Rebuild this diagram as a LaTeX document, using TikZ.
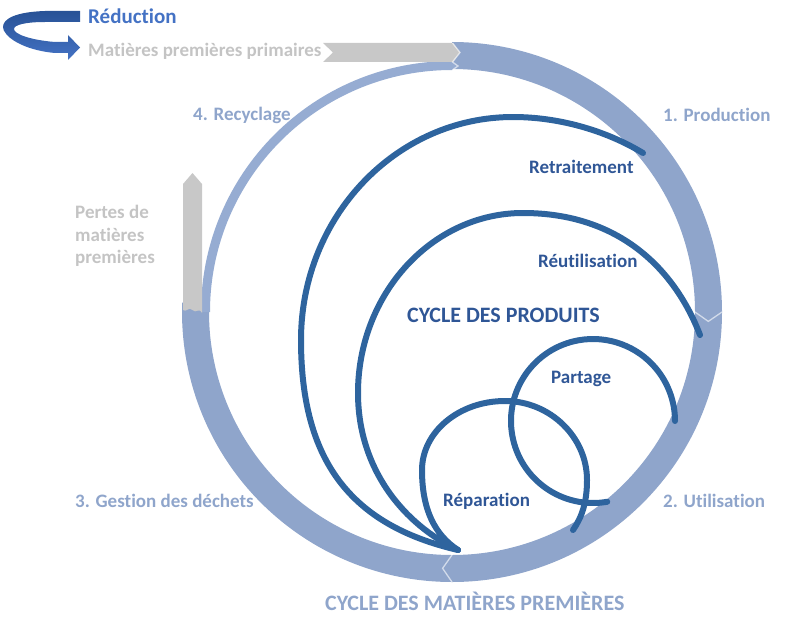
\documentclass[tikz,border=0pt]{standalone}
\usepackage{fontspec}
\setmainfont{Carlito}[Ligatures=TeX, RawFeature={-liga;-clig;-dlig;-calt}]
\usetikzlibrary{calc}
\definecolor{ringc}{RGB}{143,165,203}
\definecolor{thinc}{RGB}{150,172,210}
\definecolor{grayc}{RGB}{200,200,200}
\definecolor{graytxt}{RGB}{196,196,196}
\definecolor{lineblue}{RGB}{46,100,158}
\definecolor{lblblue}{RGB}{47,86,150}
\definecolor{reducblue}{RGB}{68,114,196}
\definecolor{reducdark}{RGB}{40,82,150}
\begin{document}
\begin{tikzpicture}[x=1pt,y=-1pt,
  lbl/.style={font=\bfseries\fontsize{19}{22.5}\selectfont, inner sep=0pt, anchor=west},
  head/.style={font=\bfseries\fontsize{22}{24}\selectfont, inner sep=0pt, anchor=west},
  loop/.style={draw=lineblue, line width=6pt, line cap=round},
  sep/.style={draw=white, draw opacity=0.6, line width=1.3pt, line join=miter}]
\useasboundingbox (0,0) rectangle (800,626);
\coordinate (C) at (452,312);
% main ring (production, utilisation, gestion)
\draw[ringc, line width=27pt] (C) ++(-90:256.5) arc[start angle=-90, end angle=182, radius=256.5];
% thin recycling arc
\draw[thinc, line width=9pt] (C) ++(180:246.5) arc[start angle=180, end angle=270, radius=246.5];
\fill[thinc] (452,62) -- (458,66) -- (452,70) -- cycle;
% gray arrows
\fill[grayc] (323,43) -- (453,43) -- (460,52.5) -- (453,62) -- (323,62) -- (333,52.5) -- cycle;
\fill[grayc] (202,313) .. controls (199,307) and (196,314) .. (192.5,310)
   .. controls (189,306) and (186,313) .. (183,310) -- (183,184) -- (192.5,173) -- (202,184) -- cycle;
% separators (chevrons)
\draw[sep] ($(C)+(0:243)$) -- ($(C)+(2.1:256.5)$) -- ($(C)+(0:270)$);
\draw[sep] ($(C)+(90:243)$) -- ($(C)+(92.1:256.5)$) -- ($(C)+(90:270)$);
\draw[sep] (452.5,43) -- (460,52.5) -- (452.5,62) -- (458,66) -- (452.5,70);
% product loops
\coordinate (conv) at (458,550);
% Retraitement
\draw[loop] (643,153) .. controls (605,130) and (558,117) .. (513,117)
  .. controls (396,117) and (301,217) .. (301,340)
  .. controls (301,460) and (350,525) .. (conv);
% Reutilisation
\draw[loop] (700,335) .. controls (675,270) and (620,213) .. (523,213)
  .. controls (432,213) and (358,294) .. (358,393)
  .. controls (358,470) and (405,525) .. (conv);
% Reparation
\draw[loop] (conv) .. controls (435,535) and (422,510) .. (422,470)
  .. controls (422,432) and (459,401) .. (505,401)
  .. controls (550,401) and (587,437) .. (587,480)
  .. controls (587,502) and (582,517) .. (573,530);
% Partage
\draw[loop] (593,421) ++(80:82) arc[start angle=80, end angle=360, radius=82];
% reduction arrow
\shade[top color=reducdark, bottom color=reducblue]
  (80,11) -- (45,11) .. controls (15,12) and (3,19) .. (3,27)
  .. controls (3,36) and (22,50) .. (55,53) -- (68,53) -- (68,60) -- (80,47.5) -- (68,35) -- (68,42)
  -- (55,42) .. controls (30,40) and (14,34) .. (14,29)
  .. controls (14,25) and (25,22) .. (45,22) -- (80,22) -- cycle;
% labels
\node[lbl, text=reducblue, font=\bfseries\fontsize{21}{24}\selectfont] (red) at (88,16) {Réduction};
\node[lbl, text=graytxt] (mpp) at (88,51) {Matières premières primaires};
\node[lbl, text=graytxt, align=left] (pertes) at (75,236) {Pertes de\\matières\\premières};
\node[lbl, text=ringc] (rec) at (193,115) {4. Recyclage};
\node[lbl, text=ringc] (prod) at (663,115) {1. Production};
\node[lbl, text=ringc] (util) at (663,501) {2. Utilisation};
\node[lbl, text=ringc] (gest) at (75,501) {3. Gestion des déchets};
\node[lbl, text=lblblue] (retr) at (529,167) {Retraitement};
\node[lbl, text=lblblue] (reut) at (538,261) {Réutilisation};
\node[lbl, text=lblblue] (part) at (551,379) {Partage};
\node[lbl, text=lblblue] (repa) at (443,501) {Réparation};
\node[head, text=lblblue] (cprod) at (407,315) {CYCLE DES PRODUITS};
\node[head, text=ringc] (cmat) at (325,601) {CYCLE DES MATIÈRES PREMIÈRES};
\end{tikzpicture}
\end{document}
